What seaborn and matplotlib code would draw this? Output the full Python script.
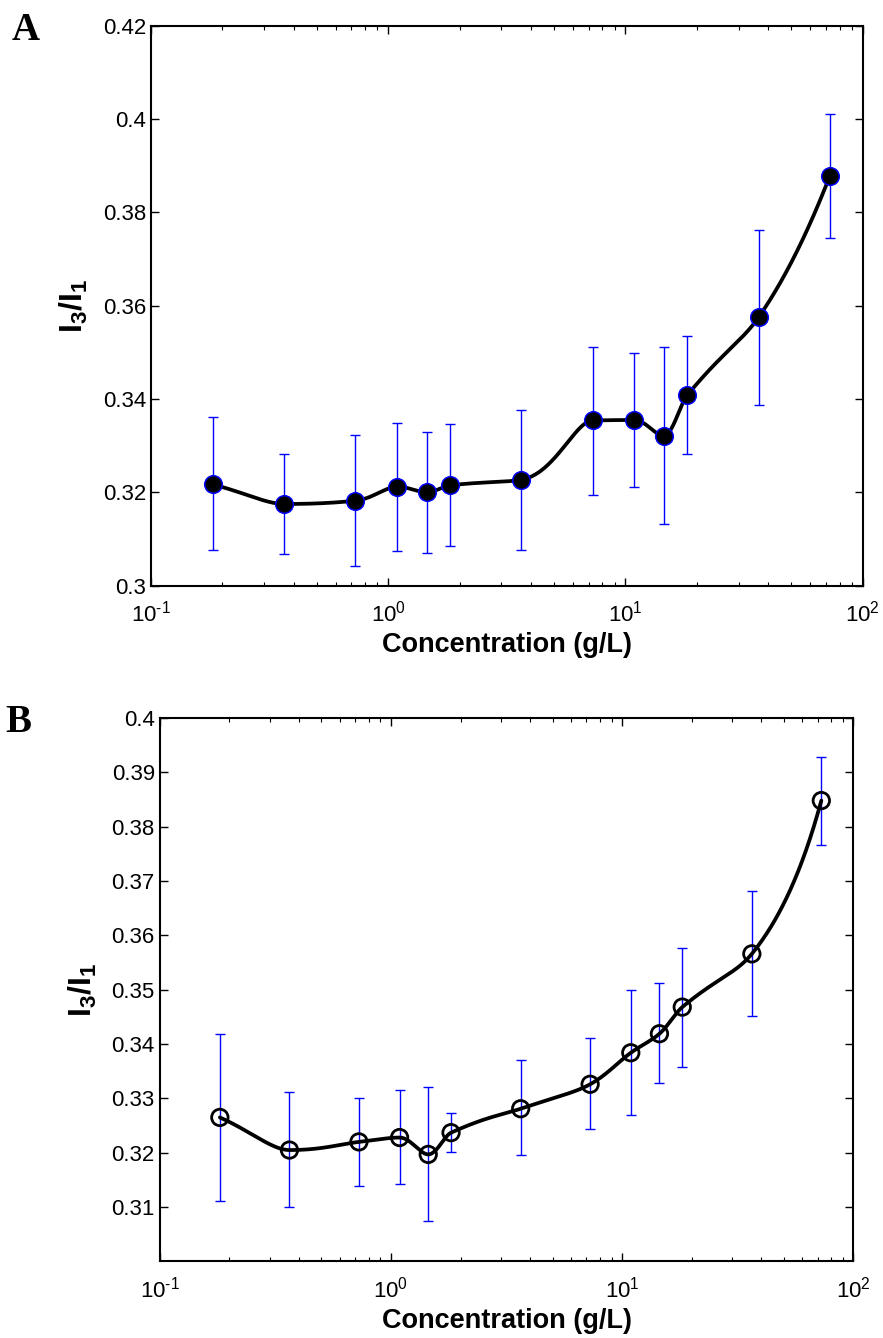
import numpy as np
import pandas as pd
import matplotlib
matplotlib.use("Agg")
import matplotlib.pyplot as plt
from matplotlib.ticker import FixedLocator, FixedFormatter, LogLocator, NullFormatter
import seaborn as sns

# ---------------- data ----------------
conc = [0.182, 0.364, 0.727, 1.09, 1.45, 1.82, 3.64, 7.27, 10.9, 14.5, 18.2, 36.4, 72.7]

ratio_a = [0.3217, 0.3175, 0.3182, 0.3212, 0.3200, 0.3215, 0.3227,
           0.3354, 0.3355, 0.3321, 0.3408, 0.3575, 0.3878]
low_a = [0.3077, 0.3068, 0.3042, 0.3074, 0.3071, 0.3085, 0.3077,
         0.3194, 0.3212, 0.3133, 0.3282, 0.3388, 0.3746]
high_a = [0.3361, 0.3282, 0.3323, 0.3349, 0.3329, 0.3347, 0.3377,
          0.3511, 0.3499, 0.3511, 0.3535, 0.3763, 0.4010]

ratio_b = [0.3265, 0.3205, 0.3220, 0.3228, 0.3197, 0.3237, 0.3281,
           0.3326, 0.3384, 0.3419, 0.3468, 0.3566, 0.3848]
low_b = [0.3112, 0.3100, 0.3139, 0.3142, 0.3075, 0.3201, 0.3196,
         0.3243, 0.3270, 0.3329, 0.3358, 0.3452, 0.3767]
high_b = [0.3418, 0.3311, 0.3301, 0.3316, 0.3321, 0.3274, 0.3370,
          0.3412, 0.3499, 0.3513, 0.3577, 0.3681, 0.3929]

xticks = [0.1, 1, 10, 100]
xticklabels = [r"$\mathdefault{10^{\text{-}1}}$", r"$\mathdefault{10^{0}}$",
               r"$\mathdefault{10^{1}}$", r"$\mathdefault{10^{2}}$"]
yticks_a = [0.30, 0.32, 0.34, 0.36, 0.38, 0.40, 0.42]
ylabels_a = ["0.3", "0.32", "0.34", "0.36", "0.38", "0.4", "0.42"]
yticks_b = [0.31, 0.32, 0.33, 0.34, 0.35, 0.36, 0.37, 0.38, 0.39, 0.40]
ylabels_b = ["0.31", "0.32", "0.33", "0.34", "0.35", "0.36", "0.37", "0.38", "0.39", "0.4"]

xlabel = "Concentration (g/L)"
ylabel = r"$\mathbf{I_3/I_1}$"


# shape-preserving cubic (pchip) used only to draw the smooth connecting curve
def pchip_curve(x, y, n=2500):
    x = np.asarray(x, float); y = np.asarray(y, float)
    h = np.diff(x); delta = np.diff(y) / h
    m = len(x); d = np.zeros(m)
    for k in range(1, m - 1):
        if delta[k - 1] * delta[k] > 0:
            w1 = 2 * h[k] + h[k - 1]; w2 = h[k] + 2 * h[k - 1]
            d[k] = (w1 + w2) / (w1 / delta[k - 1] + w2 / delta[k])

    def end(h0, h1, d0, d1):
        s = ((2 * h0 + h1) * d0 - h0 * d1) / (h0 + h1)
        if np.sign(s) != np.sign(d0):
            s = 0.0
        elif np.sign(d0) != np.sign(d1) and abs(s) > abs(3 * d0):
            s = 3 * d0
        return s
    d[0] = end(h[0], h[1], delta[0], delta[1])
    d[-1] = end(h[-1], h[-2], delta[-1], delta[-2])
    xs = np.geomspace(x[0], x[-1], n)
    idx = np.clip(np.searchsorted(x, xs) - 1, 0, m - 2)
    t = (xs - x[idx]) / h[idx]
    h00 = 2 * t**3 - 3 * t**2 + 1; h10 = t**3 - 2 * t**2 + t
    h01 = -2 * t**3 + 3 * t**2; h11 = t**3 - t**2
    ys = h00 * y[idx] + h10 * h[idx] * d[idx] + h01 * y[idx + 1] + h11 * h[idx] * d[idx + 1]
    return xs, ys


# ---------------- style ----------------
sns.set_theme(style="ticks")
plt.rcParams["font.family"] = ["Liberation Sans", "DejaVu Sans"]
plt.rcParams["mathtext.fontset"] = "custom"
plt.rcParams["mathtext.rm"] = "Liberation Sans"
plt.rcParams["mathtext.bf"] = "Liberation Sans:bold"
plt.rcParams["mathtext.it"] = "Liberation Sans:italic"
plt.rcParams["axes.unicode_minus"] = False
plt.rcParams["text.color"] = "black"
plt.rcParams["axes.labelcolor"] = "black"

fig = plt.figure(figsize=(8.83, 13.38), dpi=100)
axA = fig.add_axes([0.1710, 0.5623, 0.8060, 0.4185])
axB = fig.add_axes([0.1809, 0.0572, 0.7855, 0.4062])


def draw_panel(ax, ratio, low, high, filled, yticks, ylabels, ylim):
    df = pd.DataFrame({"conc": conc, "ratio": ratio, "low": low, "high": high})
    err = [df["ratio"] - df["low"], df["high"] - df["ratio"]]
    ax.errorbar(df["conc"], df["ratio"], yerr=err, fmt="none", ecolor="#0000FF",
                elinewidth=1.0, capsize=3.5, capthick=1.0, zorder=1)
    xs, ys = pchip_curve(df["conc"], df["ratio"])
    sns.lineplot(x=xs, y=ys, ax=ax, color="black", linewidth=2.7,
                 estimator=None, sort=False, zorder=2)
    if filled:
        sns.scatterplot(data=df, x="conc", y="ratio", ax=ax, s=160, color="black",
                        edgecolor="#0000FF", linewidth=1.1, zorder=3)
    else:
        sns.scatterplot(data=df, x="conc", y="ratio", ax=ax, s=140, facecolor="none",
                        edgecolor="black", linewidth=2.0, zorder=3)
    ax.set_xscale("log")
    ax.set_xlim(0.1, 100)
    ax.set_ylim(*ylim)
    ax.xaxis.set_major_locator(FixedLocator(xticks))
    ax.xaxis.set_major_formatter(FixedFormatter(xticklabels))
    ax.xaxis.set_minor_locator(LogLocator(base=10, subs=np.arange(2, 10), numticks=10))
    ax.xaxis.set_minor_formatter(NullFormatter())
    ax.yaxis.set_major_locator(FixedLocator(yticks))
    ax.yaxis.set_major_formatter(FixedFormatter(ylabels))
    ax.tick_params(which="both", direction="in", top=True, right=True,
                   colors="black", labelcolor="black")
    ax.tick_params(which="major", length=6, width=1.0, labelsize=16)
    ax.tick_params(which="minor", length=3, width=0.8)
    ax.tick_params(axis="x", which="major", pad=11)
    ax.tick_params(axis="y", which="major", pad=3.5)
    for sp in ax.spines.values():
        sp.set_visible(True)
        sp.set_color("black")
        sp.set_linewidth(1.5)
    ax.set_facecolor("white")
    ax.grid(False)
    ax.set_xlabel(xlabel, fontsize=19.5, fontweight="bold", labelpad=4, color="black")
    ax.set_ylabel(ylabel, fontsize=23, labelpad=9, color="black")


draw_panel(axA, ratio_a, low_a, high_a, True, yticks_a, ylabels_a, (0.30, 0.42))
draw_panel(axB, ratio_b, low_b, high_b, False, yticks_b, ylabels_b, (0.30, 0.40))

fig.text(12 / 883, 1 - 40 / 1338, "A", family="Liberation Serif", fontweight="bold",
         fontsize=28, va="baseline", ha="left", color="black")
fig.text(5 / 883, 1 - 732 / 1338, "B", family="Liberation Serif", fontweight="bold",
         fontsize=28, va="baseline", ha="left", color="black")

fig.savefig("out.png", dpi=100, facecolor="white")
